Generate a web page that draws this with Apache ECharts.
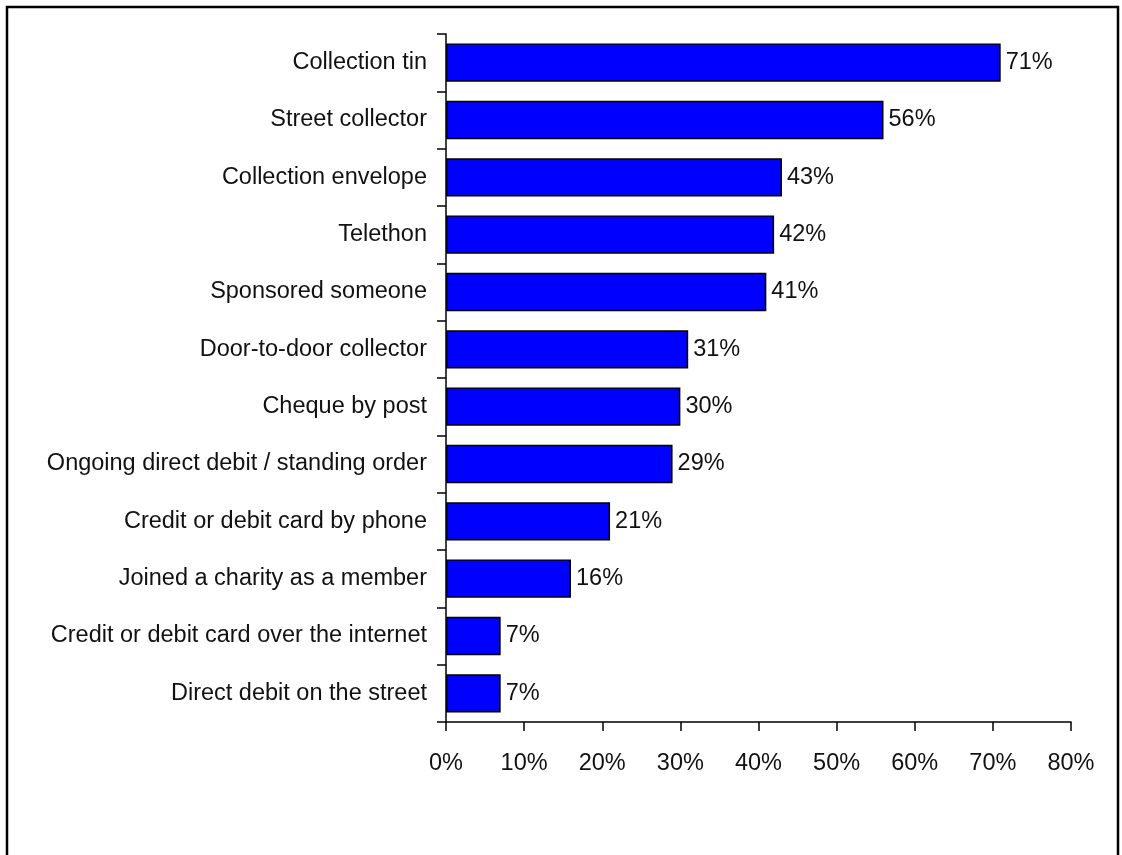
<!DOCTYPE html>
<html><head><meta charset="utf-8">
<script src="https://cdn.jsdelivr.net/npm/echarts@6/dist/echarts.min.js"></script>
<style>html,body{margin:0;padding:0;background:#fff}#c{width:1122px;height:855px}</style>
</head><body><div id="c"></div>
<script>
const categories = ["Collection tin","Street collector","Collection envelope","Telethon","Sponsored someone","Door-to-door collector","Cheque by post","Ongoing direct debit / standing order","Credit or debit card by phone","Joined a charity as a member","Credit or debit card over the internet","Direct debit on the street"];
const values = [71,56,43,42,41,31,30,29,21,16,7,7];
const xTicks = [0,10,20,30,40,50,60,70,80];
const FONT = '"Liberation Sans Narrow","Arial Narrow","Liberation Sans",sans-serif';
const chart = echarts.init(document.getElementById('c'), null, {renderer:'canvas'});
chart.setOption({
  animation:false,
  backgroundColor:'#fff',
  graphic:[{type:'rect',shape:{x:7,y:7,width:1111,height:900},style:{fill:'none',stroke:'#000',lineWidth:2.5},silent:true}],
  grid:{left:446,right:51,top:34,bottom:133},
  xAxis:{type:'value',min:xTicks[0],max:xTicks[xTicks.length-1],interval:10,
    axisLine:{show:true,lineStyle:{color:'#000',width:1.5}},
    axisTick:{show:true,length:9,lineStyle:{color:'#000',width:1.5}},
    splitLine:{show:false},
    axisLabel:{formatter:v=>v+'%',color:'#111',fontFamily:FONT,fontSize:23.5,margin:30}},
  yAxis:{type:'category',data:categories,inverse:true,
    axisLine:{show:true,lineStyle:{color:'#000',width:1.5}},
    axisTick:{show:true,length:9,alignWithLabel:false,lineStyle:{color:'#000',width:1.5}},
    axisLabel:{color:'#111',fontFamily:FONT,fontSize:23.5,margin:19}},
  series:[{type:'bar',data:values,barCategoryGap:'33%',
    itemStyle:{color:'#0000FF',borderColor:'#000',borderWidth:1.5},
    label:{show:true,position:'right',distance:5,formatter:p=>p.value+'%',color:'#111',fontFamily:FONT,fontSize:23.5}}]
});
</script></body></html>
